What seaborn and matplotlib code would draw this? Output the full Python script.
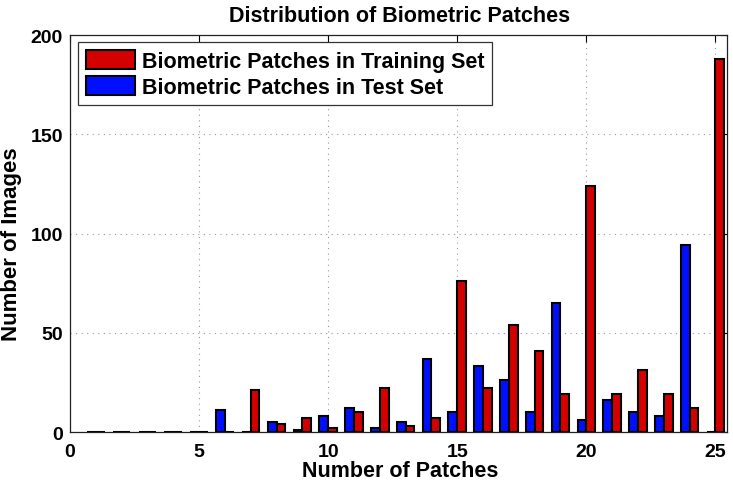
import pandas as pd
import matplotlib
matplotlib.use("Agg")
import matplotlib.pyplot as plt
from matplotlib.patches import Patch
import seaborn as sns

# Patch counts 1..25 and number of images per count
patches = list(range(1, 26))
training = [0, 0, 0, 0, 0, 0, 21, 4, 7, 2, 10, 22, 3, 7, 76,
            22, 54, 41, 19, 124, 19, 31, 19, 12, 188]
test = [0, 0, 0, 0, 0, 11, 0, 5, 1, 8, 12, 2, 5, 37, 10,
        33, 26, 10, 65, 6, 16, 10, 8, 94, 0]
train_label = "Biometric Patches in Training Set"
test_label = "Biometric Patches in Test Set"

RED = "#d40000"
BLUE = "#0010ff"
W, H = 733, 485


def build_frame():
    df_test = pd.DataFrame({"patches": patches, "images": test, "set": test_label})
    df_train = pd.DataFrame({"patches": patches, "images": training, "set": train_label})
    return pd.concat([df_test, df_train], ignore_index=True)


def draw(data):
    sns.set_style("white")
    plt.rcParams["font.family"] = ["Liberation Sans", "DejaVu Sans"]
    plt.rcParams["font.weight"] = "bold"
    for key in ["text.color", "axes.labelcolor", "xtick.color", "ytick.color"]:
        plt.rcParams[key] = "black"

    fig = plt.figure(figsize=(W / 100, H / 100), dpi=100)
    # axes box in pixels: left 70, right 727, top 36, bottom 433
    ax = fig.add_axes([70 / W, 1 - 433 / H, 657 / W, 397 / H])

    sns.barplot(data=data, x="patches", y="images", hue="set",
                hue_order=[test_label, train_label],
                palette=[BLUE, RED], saturation=1, native_scale=True,
                width=0.68, edgecolor="black", linewidth=1.5, legend=False,
                ax=ax, errorbar=None)

    ax.set_xlim(0, 25.45)
    ax.set_ylim(0, 200)
    ax.set_xticks(range(0, 26, 5))
    ax.set_yticks(range(0, 201, 50))
    ax.grid(True, linestyle=(0, (1, 4)), color="#999999", linewidth=0.8)
    ax.set_axisbelow(True)
    for s in ax.spines.values():
        s.set_visible(True)
        s.set_color("#222222")
        s.set_linewidth(0.9)
    ax.tick_params(direction="in", top=True, right=True, length=5,
                   labelsize=14)
    ax.tick_params(axis="y", pad=5)
    ax.tick_params(axis="x", pad=8)
    for lbl in ax.get_xticklabels() + ax.get_yticklabels():
        lbl.set_fontweight("bold")

    ax.set_xlabel("Number of Patches", fontsize=15.5, fontweight="bold",
                  va="center")
    ax.xaxis.set_label_coords(400 / W, 1 - 472 / H, transform=fig.transFigure)
    ax.set_ylabel("Number of Images", fontsize=16, fontweight="bold",
                  va="center", ha="center")
    ax.yaxis.set_label_coords(12 / W, 1 - 244 / H, transform=fig.transFigure)
    fig.text(400 / W, 1 - 17 / H, "Distribution of Biometric Patches",
             fontsize=15.5, fontweight="bold", ha="center", va="center")

    handles = [Patch(facecolor=RED, edgecolor="black", linewidth=1.5),
               Patch(facecolor=BLUE, edgecolor="black", linewidth=1.5)]
    leg = ax.legend(handles, [train_label, test_label], loc="upper left",
                    bbox_to_anchor=(78 / W, 1 - 43 / H),
                    bbox_transform=fig.transFigure, borderaxespad=0,
                    fancybox=False, framealpha=1, edgecolor="#333333",
                    prop={"size": 15.5, "weight": "bold"},
                    handlelength=2.3, handleheight=1.0, handletextpad=0.3,
                    borderpad=0.35, labelspacing=0.2)
    leg.get_frame().set_linewidth(0.9)

    fig.savefig("out.png", dpi=100)


if __name__ == "__main__":
    draw(build_frame())
